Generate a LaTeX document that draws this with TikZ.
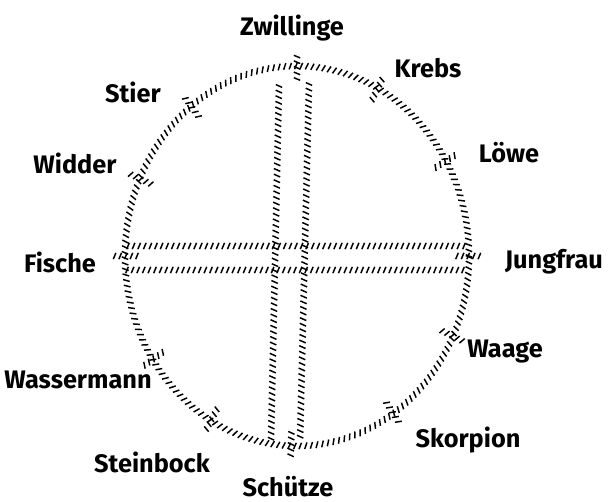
\documentclass[tikz,border=0pt]{standalone}
\usepackage{fontspec}
\setmainfont{Fira Sans}
\usetikzlibrary{decorations.markings}

\begin{document}
\begin{tikzpicture}[x=0.75pt, y=-0.75pt,
		hatch/.style={postaction={decorate}, decoration={markings,
			mark=between positions 0 and 1 step 4.2pt with {\draw[line width=1.1pt] (-1pt,-2.4pt) -- (1pt,2.4pt);}}},
		sign/.style={inner sep=1pt, font=\fontsize{19}{19}\selectfont\bfseries}]
		
		\useasboundingbox (0,0) rectangle (614,502);
		
		% Tierkreis
		\coordinate (mitte) at (297,256);
		\path[hatch] (mitte) ellipse [x radius=129pt, y radius=142.5pt];
		
		% Doppelkreuz (senkrecht)
		\coordinate (v1o) at (279,86);
		\coordinate (v1u) at (271,440);
		\coordinate (v2o) at (309,84);
		\coordinate (v2u) at (300,442);
		\path[hatch] (v1o) -- (v1u);
		\path[hatch] (v2o) -- (v2u);
		
		% Doppelkreuz (waagrecht)
		\coordinate (h1l) at (128,246);
		\coordinate (h1r) at (468,246);
		\coordinate (h2l) at (127,270);
		\coordinate (h2r) at (468,270);
		\path[hatch] (h1l) -- (h1r);
		\path[hatch] (h2l) -- (h2r);
		
		% Grenzen und Namen der Zeichen
		\foreach \a/\id/\txt/\lx/\ly in {
				90/zwillinge/Zwillinge/292/28,
				62/krebs/Krebs/428/68,
				30/loewe/Löwe/509/153,
				0/jungfrau/Jungfrau/554/262,
				-25/waage/Waage/505/352,
				-56/skorpion/Skorpion/468/440,
				-92/schuetze/Schütze/288/487,
				-120/steinbock/Steinbock/152/462,
				-147/wassermann/Wassermann/78/380,
				180/fische/Fische/60/262,
				156/widder/Widder/75/163,
				128/stier/Stier/133/92}{
			\coordinate (gi-\id) at ({297+160*cos(\a)},{256-177*sin(\a)});
			\coordinate (ga-\id) at ({297+185*cos(\a)},{256-204*sin(\a)});
			\path[hatch] (gi-\id) -- (ga-\id);
			\node[sign] (\id) at (\lx,\ly) {\txt};
		}
		
	\end{tikzpicture}
\end{document}
